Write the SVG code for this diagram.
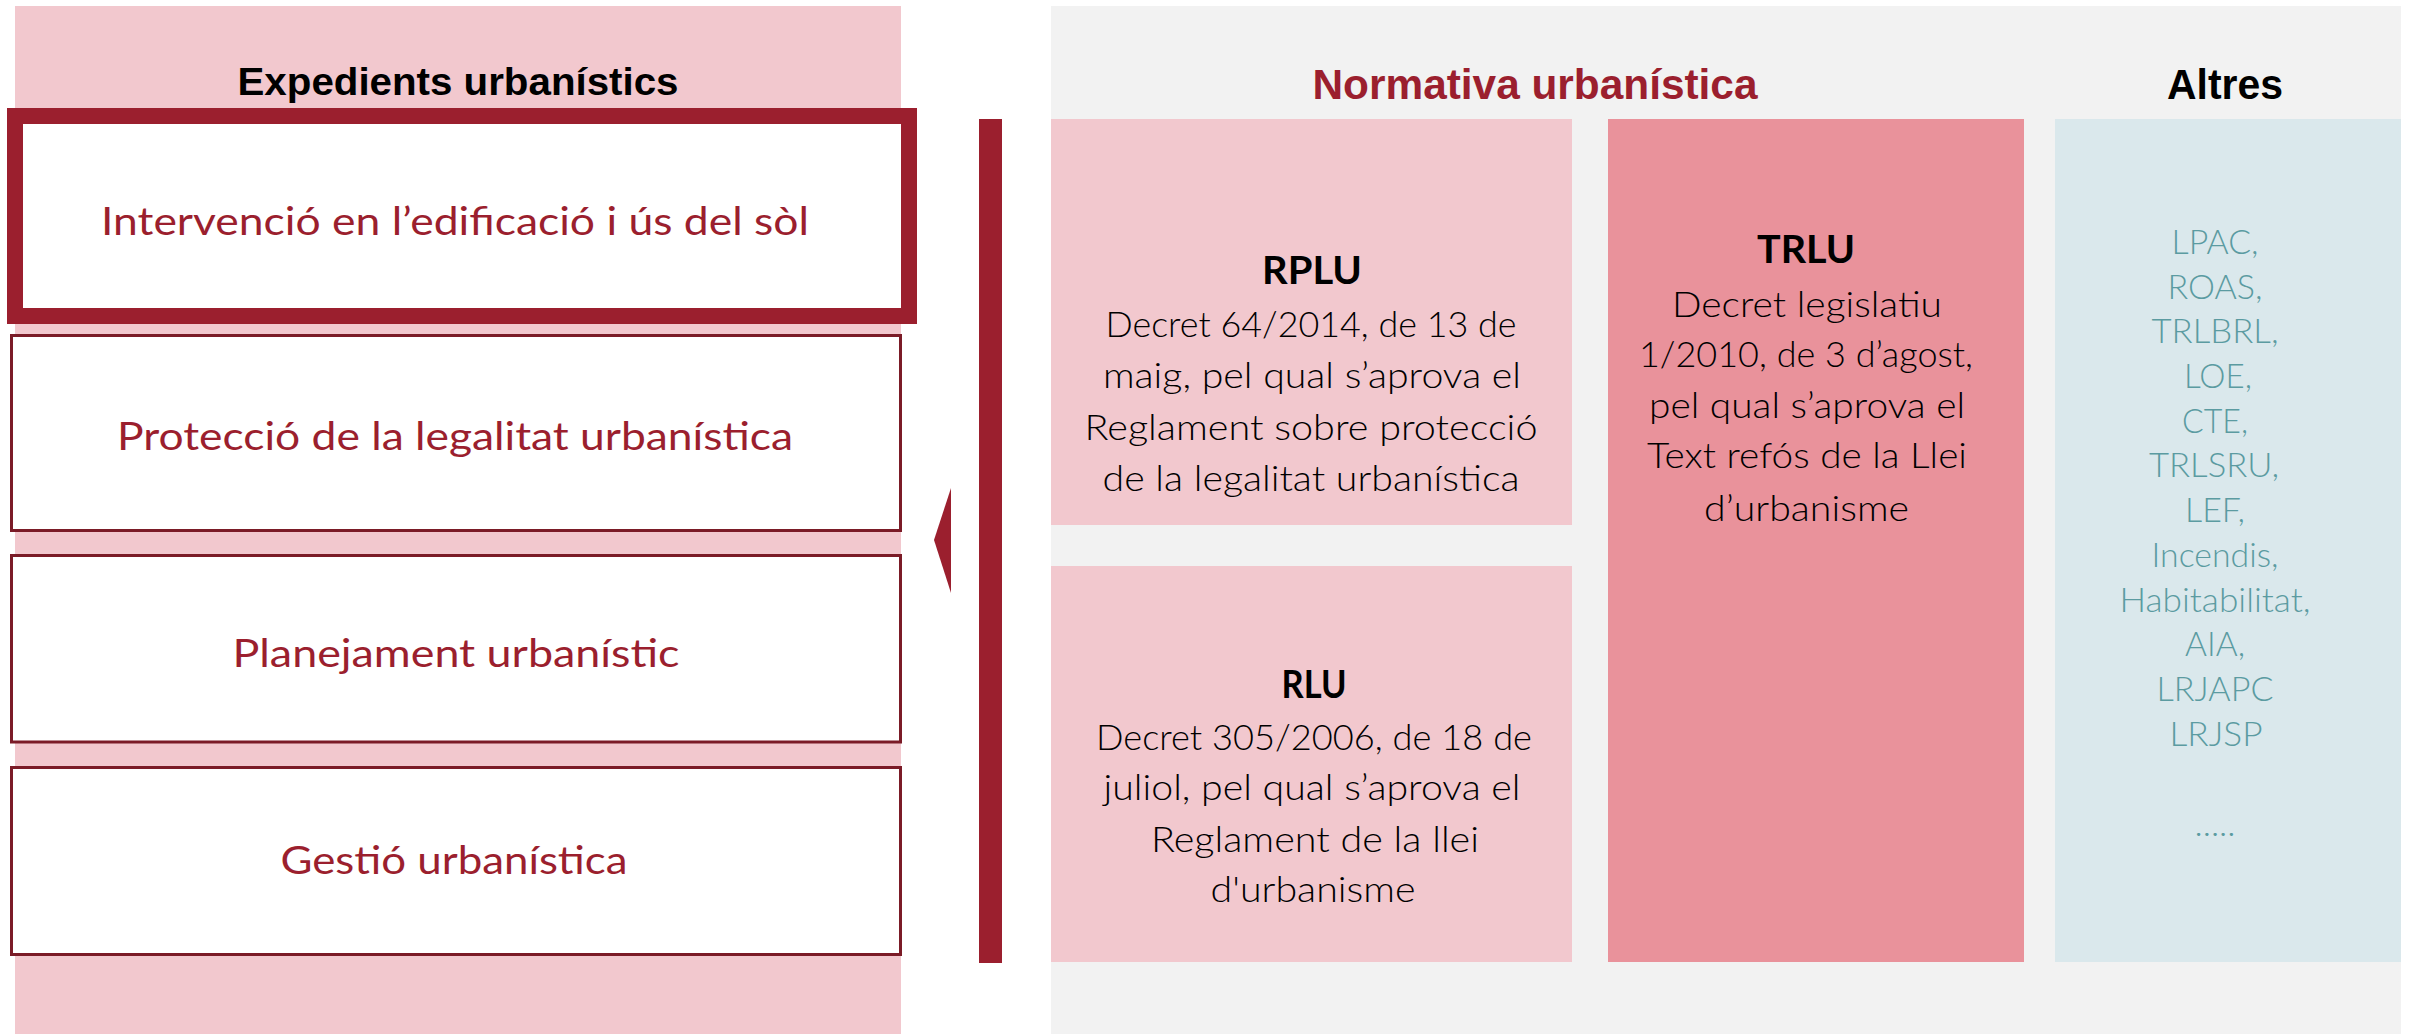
<svg xmlns="http://www.w3.org/2000/svg" width="2412" height="1034" viewBox="0 0 2412 1034">
<style>
.hd{font-family:"Liberation Sans",Arial,sans-serif;font-weight:bold;font-size:42px;text-anchor:middle}
.hdc{font-family:"Liberation Sans",Arial,sans-serif;font-weight:bold;font-size:39px;text-anchor:middle;fill:#000}
.lbl{font-family:Lato,"Liberation Sans",sans-serif;font-size:39px;fill:#9B1F2E;text-anchor:middle}
.ttl{font-family:Lato,"Liberation Sans",sans-serif;font-weight:bold;font-size:38px;fill:#000;text-anchor:middle}
.body{font-family:Lato,"Liberation Sans",sans-serif;font-weight:300;font-size:36px;fill:#000;text-anchor:middle}
.oth{font-family:Lato,"Liberation Sans",sans-serif;font-weight:300;font-size:34px;fill:#5B9BA1;text-anchor:middle}
.box{fill:#fff;stroke:#7B1B27;stroke-width:3}
</style>
<rect width="2412" height="1034" fill="#fff"/>
<g id="panel-expedients">
<rect x="15" y="6" width="886" height="1028" fill="#F2C8CE"/>
<text class="hdc" x="458" y="95" textLength="441" lengthAdjust="spacingAndGlyphs">Expedients urbanístics</text>
</g>
<g id="panel-normativa">
<rect x="1051" y="6" width="1350" height="1028" fill="#F2F2F2"/>
<text class="hd" x="1535" y="99" fill="#9B1F2E" textLength="445" lengthAdjust="spacingAndGlyphs">Normativa urbanística</text>
<text class="hd" x="2225" y="99" fill="#000" textLength="116" lengthAdjust="spacingAndGlyphs">Altres</text>
</g>
<g id="node-intervencio">
<rect x="15" y="116" width="894" height="200" fill="#fff" stroke="#9B1F2E" stroke-width="16"/>
<text class="lbl" x="455" y="235" textLength="708" lengthAdjust="spacingAndGlyphs">Intervenció en l’edificació i ús del sòl</text>
</g>
<g id="node-proteccio">
<rect class="box" x="11.5" y="335.5" width="889" height="195"/>
<text class="lbl" x="455" y="450" textLength="676" lengthAdjust="spacingAndGlyphs">Protecció de la legalitat urbanística</text>
</g>
<g id="node-planejament">
<rect class="box" x="11.5" y="555.5" width="889" height="186.5"/>
<text class="lbl" x="456" y="667" textLength="447" lengthAdjust="spacingAndGlyphs">Planejament urbanístic</text>
</g>
<g id="node-gestio">
<rect class="box" x="11.5" y="767.5" width="889" height="187"/>
<text class="lbl" x="454" y="874" textLength="347" lengthAdjust="spacingAndGlyphs">Gestió urbanística</text>
</g>
<g id="connectors">
<rect x="979" y="119" width="23" height="844" fill="#9B1F2E"/>
<polygon points="951,488 951,593 934,540" fill="#9B1F2E"/>
</g>
<g id="node-rplu">
<rect x="1051" y="119" width="521" height="406" fill="#F2C8CE"/>
<text class="ttl" x="1312" y="284" textLength="100" lengthAdjust="spacingAndGlyphs">RPLU</text>
<text class="body" x="1311" y="337" textLength="411" lengthAdjust="spacingAndGlyphs">Decret 64/2014, de 13 de</text>
<text class="body" x="1312" y="388" textLength="418" lengthAdjust="spacingAndGlyphs">maig, pel qual s’aprova el</text>
<text class="body" x="1311" y="440" textLength="453" lengthAdjust="spacingAndGlyphs">Reglament sobre protecció</text>
<text class="body" x="1311" y="491" textLength="417" lengthAdjust="spacingAndGlyphs">de la legalitat urbanística</text>
</g>
<g id="node-rlu">
<rect x="1051" y="566" width="521" height="396" fill="#F2C8CE"/>
<text class="ttl" x="1314" y="698" textLength="65" lengthAdjust="spacingAndGlyphs">RLU</text>
<text class="body" x="1314" y="750" textLength="436" lengthAdjust="spacingAndGlyphs">Decret 305/2006, de 18 de</text>
<text class="body" x="1312" y="800" textLength="417" lengthAdjust="spacingAndGlyphs">juliol, pel qual s’aprova el</text>
<text class="body" x="1315" y="852" textLength="328" lengthAdjust="spacingAndGlyphs">Reglament de la llei</text>
<text class="body" x="1313" y="902" textLength="205" lengthAdjust="spacingAndGlyphs">d'urbanisme</text>
</g>
<g id="node-trlu">
<rect x="1608" y="119" width="416" height="843" fill="#E9929B"/>
<text class="ttl" x="1806" y="263" textLength="98" lengthAdjust="spacingAndGlyphs">TRLU</text>
<text class="body" x="1807" y="317" textLength="270" lengthAdjust="spacingAndGlyphs">Decret legislatiu</text>
<text class="body" x="1806" y="367" textLength="334" lengthAdjust="spacingAndGlyphs">1/2010, de 3 d’agost,</text>
<text class="body" x="1807" y="418" textLength="316" lengthAdjust="spacingAndGlyphs">pel qual s’aprova el</text>
<text class="body" x="1807" y="468" textLength="320" lengthAdjust="spacingAndGlyphs">Text refós de la Llei</text>
<text class="body" x="1806.5" y="521" textLength="205" lengthAdjust="spacingAndGlyphs">d’urbanisme</text>
</g>
<g id="node-altres">
<rect x="2055" y="119" width="346" height="843" fill="#DAE8EC"/>
<text class="oth" x="2215" y="254" textLength="87" lengthAdjust="spacingAndGlyphs">LPAC,</text>
<text class="oth" x="2215" y="299" textLength="95" lengthAdjust="spacingAndGlyphs">ROAS,</text>
<text class="oth" x="2215" y="343" textLength="127" lengthAdjust="spacingAndGlyphs">TRLBRL,</text>
<text class="oth" x="2218" y="388" textLength="68" lengthAdjust="spacingAndGlyphs">LOE,</text>
<text class="oth" x="2215" y="433" textLength="66" lengthAdjust="spacingAndGlyphs">CTE,</text>
<text class="oth" x="2214" y="477" textLength="130" lengthAdjust="spacingAndGlyphs">TRLSRU,</text>
<text class="oth" x="2215" y="522" textLength="60" lengthAdjust="spacingAndGlyphs">LEF,</text>
<text class="oth" x="2215" y="567" textLength="127" lengthAdjust="spacingAndGlyphs">Incendis,</text>
<text class="oth" x="2215" y="612" textLength="191" lengthAdjust="spacingAndGlyphs">Habitabilitat,</text>
<text class="oth" x="2215" y="656" textLength="60" lengthAdjust="spacingAndGlyphs">AIA,</text>
<text class="oth" x="2215" y="701" textLength="117" lengthAdjust="spacingAndGlyphs">LRJAPC</text>
<text class="oth" x="2216" y="746" textLength="93" lengthAdjust="spacingAndGlyphs">LRJSP</text>
<text class="oth" x="2215" y="836" textLength="41" lengthAdjust="spacingAndGlyphs">.....</text>
</g>
</svg>
